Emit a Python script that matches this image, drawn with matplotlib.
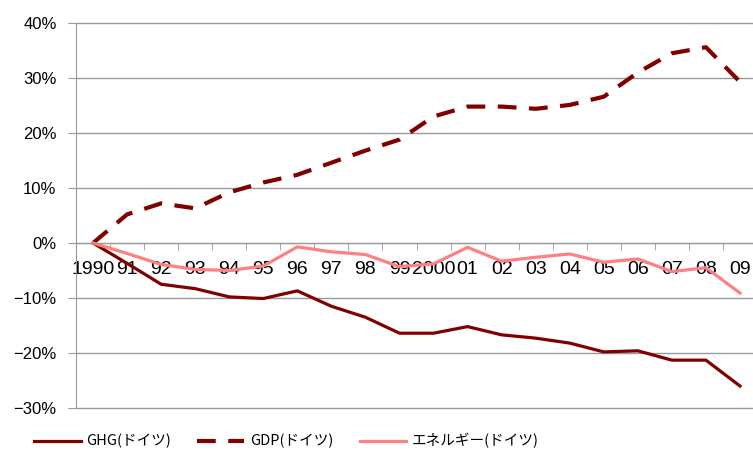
import matplotlib
matplotlib.use("Agg")
import matplotlib.pyplot as plt

plt.rcParams['font.family'] = ['Liberation Sans', 'Noto Sans CJK JP', 'DejaVu Sans']

years = list(range(1990, 2010))
year_labels = ["1990", "91", "92", "93", "94", "95", "96", "97", "98", "99",
               "2000", "01", "02", "03", "04", "05", "06", "07", "08", "09"]

ghg = [0, -3.7, -7.5, -8.3, -9.8, -10.1, -8.7, -11.5, -13.5, -16.4,
       -16.4, -15.2, -16.7, -17.3, -18.2, -19.8, -19.6, -21.3, -21.3, -26.0]
gdp = [0, 5.2, 7.2, 6.3, 9.2, 11.0, 12.4, 14.6, 16.8, 18.8,
       23.0, 24.8, 24.8, 24.4, 25.1, 26.6, 31.0, 34.5, 35.6, 29.3]
energy = [0, -1.9, -3.9, -4.8, -5.0, -4.2, -0.7, -1.6, -2.1, -4.3,
          -3.8, -0.8, -3.3, -2.6, -2.0, -3.5, -2.9, -5.2, -4.5, -9.1]

y_ticks = [-30, -20, -10, 0, 10, 20, 30, 40]
y_labels = ["−30%", "−20%", "−10%", "0%", "10%", "20%", "30%", "40%"]

dark = "#800000"
pink = "#FF8080"
grey = "#999999"

fig = plt.figure(figsize=(7.53, 4.57), dpi=100)
ax = fig.add_axes([76 / 753, 49 / 457, 681 / 753, 385 / 457])

ax.spines['bottom'].set_position(('data', 0))
ax.spines['bottom'].set_color(grey)
ax.spines['left'].set_color(grey)
ax.spines['top'].set_visible(False)
ax.spines['right'].set_visible(False)

ax.plot(years, ghg, color=dark, lw=2.3, label="GHG(ドイツ)")
ax.plot(years, gdp, color=dark, lw=3.0, dashes=(4.5, 3), label="GDP(ドイツ)")
ax.plot(years, energy, color=pink, lw=2.3, label="エネルギー(ドイツ)")

ax.set_xlim(1989.5, 2009.5)
ax.set_ylim(-30, 40)

ax.set_yticks(y_ticks)
ax.set_yticklabels(y_labels)
ax.yaxis.grid(True, color=grey, lw=1.0)
for gl in ax.get_ygridlines():
    gl.set_clip_on(False)
ax.set_axisbelow(True)

ax.set_xticks(years)
ax.set_xticklabels(year_labels)
ax.set_xticks([y - 0.5 for y in years], minor=True)
ax.tick_params(axis='x', which='major', length=0, pad=13, labelsize=14)
ax.tick_params(axis='x', which='minor', length=5, color=grey, direction='out')
ax.tick_params(axis='y', length=6, color=grey, direction='out', pad=8,
               labelsize=12)

fig.legend(loc='center left', bbox_to_anchor=(28 / 753, 0.035), ncol=3,
           frameon=False, prop={'family': ['Noto Sans CJK JP'], 'size': 10.5},
           handlelength=3.2, handletextpad=0.4, columnspacing=1.8,
           borderaxespad=0)

fig.savefig("out.png", dpi=100)
